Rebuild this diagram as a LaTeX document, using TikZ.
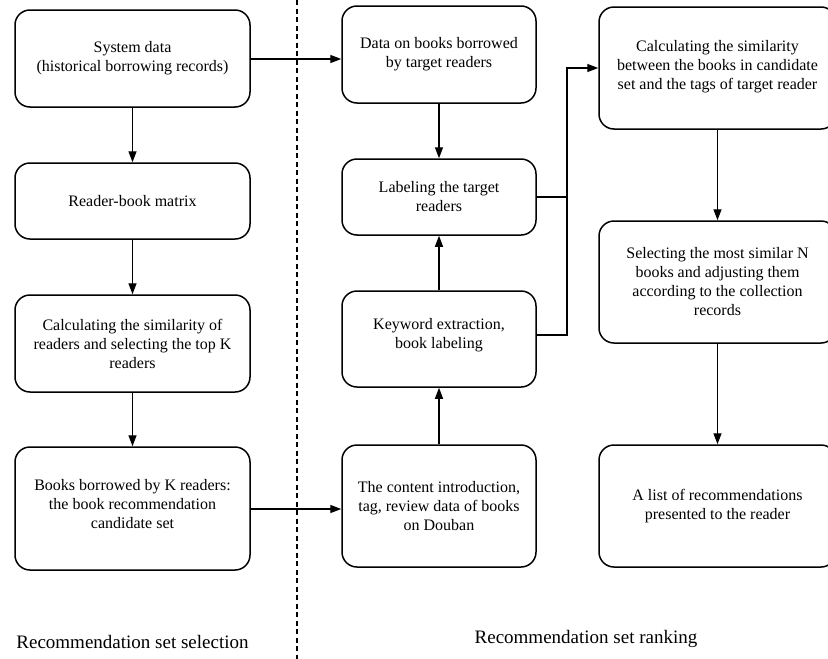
\documentclass[tikz,border=0pt]{standalone}
\usepackage{fontspec}
\setmainfont{Liberation Serif}
\usetikzlibrary{arrows.meta}
\begin{document}
\begin{tikzpicture}[x=1pt,y=-1pt,
  box/.style={draw, line width=1.5pt, rounded corners=15pt, inner sep=0pt, align=center,
    font=\fontsize{16}{19}\selectfont},
  arr/.style={line width=1.4pt, -{Triangle[length=11pt,width=8pt]}},
  ln/.style={line width=1.4pt},
  captext/.style={font=\fontsize{19}{22}\selectfont, inner sep=0pt}]
\useasboundingbox (0,0) rectangle (828,659);
\clip (0,0) rectangle (828,659);
% left column
\node[box, minimum width=235pt, minimum height=97pt] (L1) at (132.5,58.5) {System data\\(historical borrowing records)};
\node[box, minimum width=235pt, minimum height=76pt] (L2) at (132.5,201) {Reader-book matrix};
\node[box, minimum width=235pt, minimum height=97pt] (L3) at (132.5,343.5) {Calculating the similarity of\\readers and selecting the top K\\readers};
\node[box, minimum width=235pt, minimum height=123pt] (L4) at (132.5,508.5) {Books borrowed by K readers:\\the book recommendation\\candidate set\\[-9pt]};
% middle column
\node[box, minimum width=194pt, minimum height=97pt] (M1) at (439,54.5) {Data on books borrowed\\by target readers};
\node[box, minimum width=194pt, minimum height=76pt] (M2) at (439,197) {Labeling the target\\readers};
\node[box, minimum width=194pt, minimum height=96pt] (M3) at (439,339) {Keyword extraction,\\book labeling\\[-8pt]};
\node[box, minimum width=194pt, minimum height=122pt] (M4) at (439,506) {The content introduction,\\tag, review data of books\\on Douban};
% right column
\node[box, minimum width=237pt, minimum height=122pt] (R1) at (717.5,68) {Calculating the similarity\\between the books in candidate\\set and the tags of target reader\\[-13pt]};
\node[box, minimum width=237pt, minimum height=122pt] (R2) at (717.5,282) {Selecting the most similar N\\books and adjusting them\\according to the collection\\records};
\node[box, minimum width=237pt, minimum height=122pt] (R3) at (717.5,506) {A list of recommendations\\presented to the reader};
% divider
\coordinate (dT) at (297,0);
\coordinate (dB) at (297,659);
\draw[line width=1.3pt, dash pattern=on 5pt off 3.5pt] (dT) -- (dB);
% captions
\node[captext] (c1) at (132.5,642) {Recommendation set selection};
\node[captext] (c2) at (586,639) {Recommendation set ranking};
% connectors
\draw[arr] (L1) -- (L2);
\draw[arr] (L2) -- (L3);
\draw[arr] (L3) -- (L4);
\draw[arr] (L1.east |- 0,59) -- (M1.west |- 0,59);
\draw[arr] (L4.east |- 0,509) -- (M4.west |- 0,509);
\draw[arr] (M1) -- (M2);
\draw[arr] (M4) -- (M3);
\draw[arr] (M3) -- (M2);
\coordinate (j1) at (567,197);
\coordinate (j2) at (567,335);
\coordinate (j0) at (567,68);
\draw[ln] (M2.east) -- (j1);
\draw[ln] (M3.east |- j2) -- (j2) -- (j1);
\draw[arr] (j1) -- (j0) -- (R1.west);
\draw[arr] (R1) -- (R2);
\draw[arr] (R2) -- (R3);
\end{tikzpicture}
\end{document}
